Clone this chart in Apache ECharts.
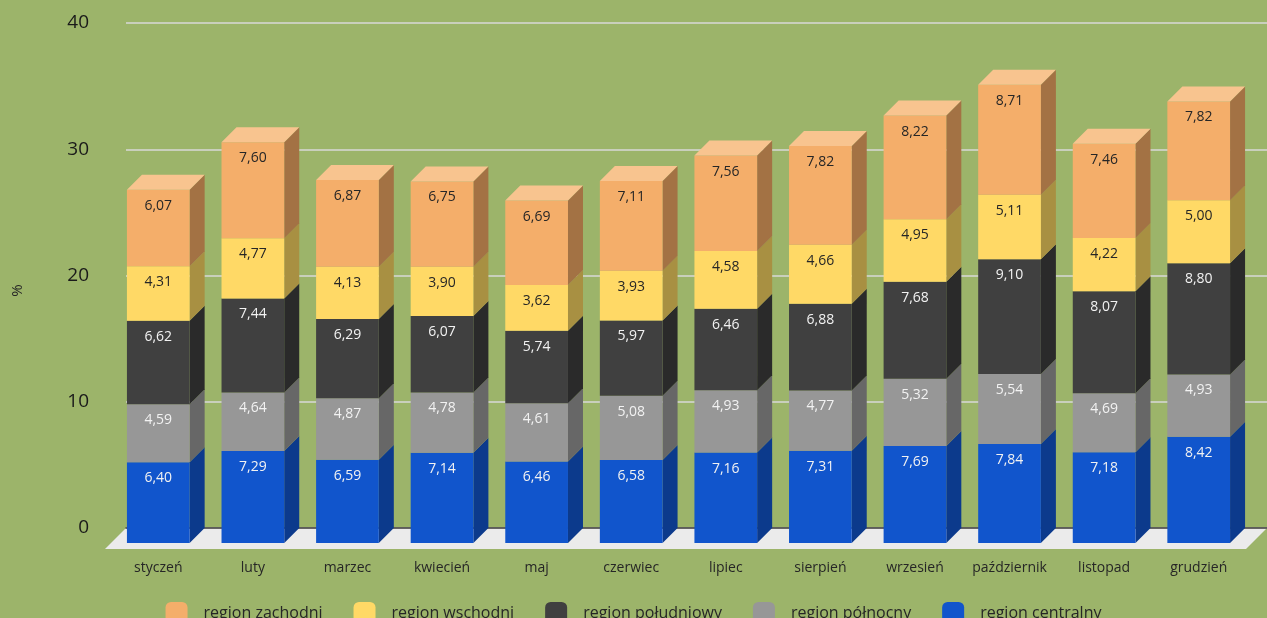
<!DOCTYPE html>
<html>
<head>
<meta charset="utf-8">
<script src="https://cdn.jsdelivr.net/npm/echarts@6/dist/echarts.min.js"></script>
<style>
  html, body { margin: 0; padding: 0; background: #9CB46A; }
  #chart { width: 1267px; height: 618px; }
</style>
</head>
<body>
<div id="chart"></div>
<script>
// Monthly shares by region (%), stacked bottom to top
const months = ['styczeń', 'luty', 'marzec', 'kwiecień', 'maj', 'czerwiec', 'lipiec', 'sierpień', 'wrzesień', 'październik', 'listopad', 'grudzień'];
const centralny  = [6.40, 7.29, 6.59, 7.14, 6.46, 6.58, 7.16, 7.31, 7.69, 7.84, 7.18, 8.42];
const polnocny   = [4.59, 4.64, 4.87, 4.78, 4.61, 5.08, 4.93, 4.77, 5.32, 5.54, 4.69, 4.93];
const poludniowy = [6.62, 7.44, 6.29, 6.07, 5.74, 5.97, 6.46, 6.88, 7.68, 9.10, 8.07, 8.80];
const wschodni   = [4.31, 4.77, 4.13, 3.90, 3.62, 3.93, 4.58, 4.66, 4.95, 5.11, 4.22, 5.00];
const zachodni   = [6.07, 7.60, 6.87, 6.75, 6.69, 7.11, 7.56, 7.82, 8.22, 8.71, 7.46, 7.82];
const yTicks = [0, 10, 20, 30, 40];

// Stack definitions (bottom first) with face shading
const stack = [
  { name: 'region centralny',   values: centralny,  front: '#1155CC', side: '#0C3A8C', top: '#3F78DA', label: '#F2F2F2' },
  { name: 'region północny',    values: polnocny,   front: '#979797', side: '#676767', top: '#B5B5B5', label: '#F2F2F2' },
  { name: 'region południowy',  values: poludniowy, front: '#404040', side: '#2A2A2A', top: '#5E5E5E', label: '#F2F2F2' },
  { name: 'region wschodni',    values: wschodni,   front: '#FFD966', side: '#A89042', top: '#FFE38F', label: '#262626' },
  { name: 'region zachodni',    values: zachodni,   front: '#F4AE6A', side: '#A37244', top: '#F8C48F', label: '#262626' }
];
const legendOrder = ['region zachodni', 'region wschodni', 'region południowy', 'region północny', 'region centralny'];

// Depth of the pseudo-3D extrusion (px)
const DX = 15, DY = 15;
const fmt = v => v.toFixed(2).replace('.', ',');

function barRenderer(s, isTop) {
  return function (params, api) {
    const ci = api.value(0), base = api.value(1), val = api.value(2);
    const pLo = api.coord([ci, base]);
    const pHi = api.coord([ci, base + val]);
    const bw = api.size([1, 0])[0] * 0.663;
    const l = pLo[0] - bw / 2, r = l + bw;
    const yT = pHi[1], yB = pLo[1];
    const children = [
      { type: 'polygon', shape: { points: [[r, yT], [r + DX, yT - DY], [r + DX, yB - DY], [r, yB]] }, style: { fill: s.side } },
      { type: 'rect', shape: { x: l, y: yT, width: bw, height: yB - yT }, style: { fill: s.front } }
    ];
    if (isTop) {
      children.push({ type: 'polygon', shape: { points: [[l, yT], [l + DX, yT - DY], [r + DX, yT - DY], [r, yT]] }, style: { fill: s.top } });
    }
    children.push({
      type: 'text', x: (l + r) / 2, y: yT + 16,
      style: { text: fmt(val), fill: s.label, font: '14px "Open Sans"', align: 'center', verticalAlign: 'middle' }
    });
    return { type: 'group', children };
  };
}

const cum = months.map(() => 0);
const barSeries = stack.map((s, k) => {
  const data = months.map((m, i) => {
    const d = [i, cum[i], s.values[i]];
    cum[i] += s.values[i];
    return d;
  });
  return {
    type: 'custom', name: s.name, xAxisIndex: 0, yAxisIndex: 0, z: 5,
    itemStyle: { color: s.front },
    encode: { x: 0, y: 2 },
    renderItem: barRenderer(s, k === stack.length - 1),
    data
  };
});

// Floor plate under the bars
const floorSeries = {
  type: 'custom', name: 'floor', xAxisIndex: 0, yAxisIndex: 0, z: 1, silent: true,
  renderItem: function (params, api) {
    const cs = params.coordSys;
    const y0 = api.coord([0, 0])[1];
    const W = api.getWidth();
    const back = y0 - DY, front = y0 + 6, shift = front - back;
    return {
      type: 'polygon',
      shape: { points: [[cs.x + DX, back], [W, back], [W - shift, front], [cs.x + DX - shift, front]] },
      style: { fill: '#EBEBEB' }
    };
  },
  data: [[0, 0]]
};

const chart = echarts.init(document.getElementById('chart'));
chart.setOption({
  backgroundColor: '#9CB46A',
  animation: false,
  grid: [
    { left: 111, right: 21, top: 38, bottom: 75 },   // front plane
    { left: 126, right: 0, top: 23, bottom: 90 }     // back wall
  ],
  xAxis: [
    {
      type: 'category', gridIndex: 0, data: months,
      axisLine: { show: false }, axisTick: { show: false },
      axisLabel: { interval: 0, margin: 18, fontSize: 14, color: '#262626', fontFamily: 'Open Sans' }
    },
    {
      type: 'category', gridIndex: 1, data: months, z: 3,
      axisLine: { show: true, lineStyle: { color: '#3A3A3A', width: 1.5 } },
      axisTick: { show: false }, axisLabel: { show: false }
    }
  ],
  yAxis: [
    {
      type: 'value', gridIndex: 0, min: yTicks[0], max: yTicks[yTicks.length - 1], interval: 10,
      name: '%', nameLocation: 'middle', nameRotate: 90, nameGap: 86,
      nameTextStyle: { fontSize: 15, color: '#262626', fontFamily: 'Open Sans' },
      axisLine: { show: false }, axisTick: { show: false }, axisLabel: { show: false }, splitLine: { show: false }
    },
    {
      type: 'value', gridIndex: 1, min: yTicks[0], max: yTicks[yTicks.length - 1], interval: 10,
      axisLine: { show: false }, axisTick: { show: false },
      axisLabel: { margin: 37, fontSize: 19, color: '#1A1A1A', fontFamily: 'Open Sans' },
      splitLine: { show: true, lineStyle: { color: '#D9D9D9', width: 1.5 } }
    }
  ],
  legend: {
    data: legendOrder.map(n => ({ name: n, icon: 'roundRect' })),
    left: 'center', top: 597,
    itemWidth: 22, itemHeight: 22, itemGap: 31,
    textStyle: { fontSize: 16, color: '#262626', fontFamily: 'Open Sans', padding: [0, 0, 0, 11] }
  },
  series: [floorSeries].concat(barSeries)
});
</script>
</body>
</html>
